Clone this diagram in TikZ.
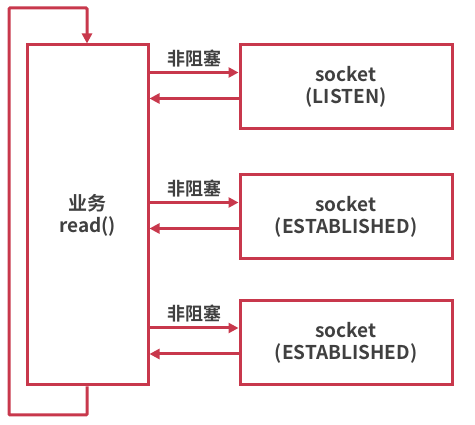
\documentclass[tikz,border=0pt]{standalone}
\usepackage{fontspec}
\setmainfont{Noto Sans CJK SC}[BoldFont={* Bold}]
\usetikzlibrary{arrows.meta,positioning}
\definecolor{rouge}{RGB}{200,56,76}
\definecolor{texte}{RGB}{64,64,64}

\tikzset{boite/.style = {draw = rouge, line width = 3pt, rectangle, inner sep = 0pt,
                         minimum width = #1, text = texte, align = center,
                         font = \fontsize{19}{22}\selectfont\bfseries},
         boite/.default = 212pt,
         fleche/.style = {draw = rouge, line width = 3pt,
                          -{Triangle[length=10pt,width=10pt]}},
         etiq/.style = {text = texte, font = \fontsize{18}{20}\selectfont\bfseries}
        }

\begin{document}
\begin{tikzpicture}[x=1pt, y=-1pt]
  \useasboundingbox (0,0) rectangle (475,425);
  \node[boite=121pt, minimum height=340pt] (metier) at (87.5,215) {业务\\read()};
  \node[boite, minimum height=84pt] (s1) at (346,87)    {socket\\(LISTEN)};
  \node[boite, minimum height=84pt] (s2) at (346,217)   {socket\\(ESTABLISHED)};
  \node[boite, minimum height=84pt] (s3) at (346,342.5) {socket\\(ESTABLISHED)};

  % aller-retour vers chaque socket
  \foreach \s in {s1,s2,s3}{
    \draw[fleche] ([yshift=14.5pt]\s.west -| metier.east) -- ([yshift=14.5pt]\s.west)
      node[etiq, midway, above=1pt] {非阻塞};
    \draw[fleche] ([yshift=-11.5pt]\s.west) -- ([yshift=-11.5pt]\s.west -| metier.east);
  }

  % boucle
  \coordinate (bas) at (87,415);
  \coordinate (haut) at (9,8);
  \draw[fleche, rounded corners=1pt] (metier.south -| bas) -- (bas) -- (bas -| haut)
    -- (haut) -- (haut -| bas) -- (metier.north -| bas);
\end{tikzpicture}
\end{document}
